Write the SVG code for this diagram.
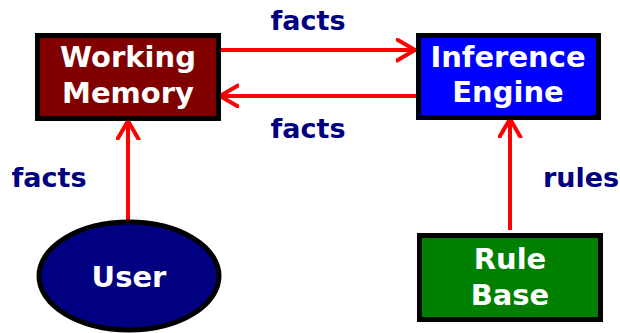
<svg xmlns="http://www.w3.org/2000/svg" width="620" height="333" viewBox="0 0 620 333">
<defs>
<marker id="arr" markerUnits="userSpaceOnUse" markerWidth="30" markerHeight="30" refX="20" refY="12" orient="auto">
<path d="M1,1.5 L19,12 L1,22.5" fill="none" stroke="#ff0000" stroke-width="4" stroke-linecap="round" stroke-linejoin="miter"/>
</marker>
<style>
.box{stroke:#000;stroke-width:5}
.lbl{font-family:"DejaVu Sans",Verdana,sans-serif;font-weight:bold;fill:#fff;font-size:29px;text-anchor:middle}
.edge{font-family:"DejaVu Sans",Verdana,sans-serif;font-weight:bold;fill:#000080;font-size:27px;text-anchor:middle}
.conn{stroke:#ff0000;stroke-width:4;fill:none;marker-end:url(#arr)}
</style>
</defs>
<rect width="620" height="333" fill="#fff"/>
<g id="connectors">
<line class="conn" x1="221" y1="50" x2="416" y2="50"/>
<line class="conn" x1="418" y1="96" x2="219" y2="96"/>
<line class="conn" x1="128" y1="220" x2="128" y2="120"/>
<line class="conn" x1="510" y1="230" x2="510" y2="118"/>
<text class="edge" x="308" y="30">facts</text>
<text class="edge" x="308" y="138">facts</text>
<text class="edge" x="49" y="187">facts</text>
<text class="edge" x="581" y="187">rules</text>
</g>
<g id="working-memory">
<rect class="box" x="37.5" y="35.5" width="181" height="83" fill="#800000"/>
<text class="lbl" x="128" y="67">Working</text>
<text class="lbl" x="128" y="103">Memory</text>
</g>
<g id="inference-engine">
<rect class="box" x="418.5" y="35.5" width="180" height="82" fill="#0000ff"/>
<text class="lbl" x="508" y="67">Inference</text>
<text class="lbl" x="508" y="102">Engine</text>
</g>
<g id="user">
<ellipse class="box" cx="129" cy="276" rx="90" ry="54" fill="#000080"/>
<text class="lbl" x="129" y="287">User</text>
</g>
<g id="rule-base">
<rect class="box" x="419.5" y="235.5" width="181" height="84" fill="#008000"/>
<text class="lbl" x="510" y="269">Rule</text>
<text class="lbl" x="510" y="305">Base</text>
</g>
</svg>
